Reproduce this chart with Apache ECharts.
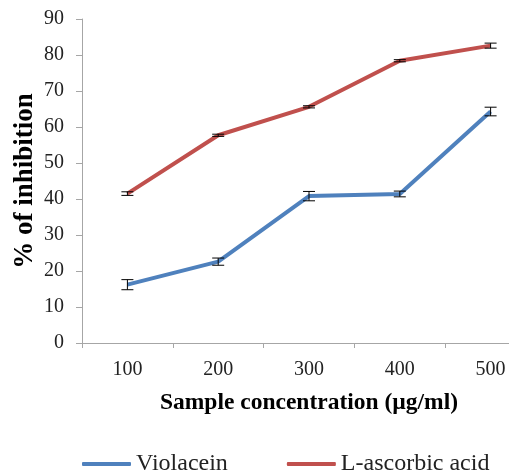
<!DOCTYPE html>
<html><head><meta charset="utf-8">
<script src="https://cdn.jsdelivr.net/npm/echarts@6/dist/echarts.min.js"></script>
<style>html,body{margin:0;padding:0;background:#fff}#c{width:509px;height:474px}</style>
</head><body><div id="c"></div>
<script>
const categories = ['100', '200', '300', '400', '500'];
const violacein = [16.2, 22.6, 40.8, 41.4, 64.3];
const violaceinErr = [1.4, 1.0, 1.3, 0.8, 1.2];
const ascorbic = [41.5, 57.7, 65.6, 78.4, 82.6];
const ascorbicErr = [0.5, 0.3, 0.3, 0.3, 0.7];
const yTicks = [0, 10, 20, 30, 40, 50, 60, 70, 80, 90];

const FONT = 'Liberation Serif';
const chart = echarts.init(document.getElementById('c'));

function errSeries(vals, errs) {
  return {
    type: 'custom',
    silent: true,
    z: 5,
    data: vals.map((v, i) => [i, v - errs[i], v + errs[i]]),
    renderItem: function (params, api) {
      const lo = api.coord([api.value(0), api.value(1)]);
      const hi = api.coord([api.value(0), api.value(2)]);
      const w = 6;
      const st = { stroke: '#000', lineWidth: 1 };
      return {
        type: 'group',
        children: [
          { type: 'line', shape: { x1: lo[0], y1: lo[1], x2: hi[0], y2: hi[1] }, style: st },
          { type: 'line', shape: { x1: lo[0] - w, y1: lo[1], x2: lo[0] + w, y2: lo[1] }, style: st },
          { type: 'line', shape: { x1: hi[0] - w, y1: hi[1], x2: hi[0] + w, y2: hi[1] }, style: st }
        ]
      };
    }
  };
}

chart.setOption({
  animation: false,
  textStyle: { fontFamily: FONT },
  grid: { left: 82, top: 19, bottom: 131, right: -27, containLabel: false, outerBoundsMode: 'none' },
  legend: {
    top: 452,
    left: 82,
    padding: 0,
    itemWidth: 49,
    itemHeight: 4,
    itemGap: 59,
    icon: 'roundRect',
    textStyle: { fontFamily: FONT, fontSize: 24, color: '#222', fontWeight: 'normal' },
    data: ['Violacein', 'L-ascorbic acid']
  },
  xAxis: {
    type: 'category',
    data: categories,
    boundaryGap: true,
    axisLine: { lineStyle: { color: '#a6a6a6', width: 1 } },
    axisTick: { show: true, length: 5, lineStyle: { color: '#a6a6a6' } },
    axisLabel: { fontFamily: FONT, fontSize: 20, color: '#222', margin: 17 },
    name: 'Sample concentration (µg/ml)',
    nameLocation: 'middle',
    nameGap: 48,
    nameMoveOverlap: false,
    nameTextStyle: { fontFamily: FONT, fontSize: 23.5, fontWeight: 'bold', color: '#000' },
    splitLine: { show: false }
  },
  yAxis: {
    type: 'value',
    min: yTicks[0],
    max: yTicks[yTicks.length - 1],
    interval: 10,
    axisLine: { show: true, lineStyle: { color: '#a6a6a6', width: 1 } },
    axisTick: { show: true, length: 6, lineStyle: { color: '#a6a6a6' } },
    axisLabel: { fontFamily: FONT, fontSize: 20, color: '#222', margin: 18 },
    splitLine: { show: false },
    name: '% of inhibition',
    nameLocation: 'middle',
    nameGap: 43,
    nameMoveOverlap: false,
    nameTextStyle: { fontFamily: FONT, fontSize: 27, fontWeight: 'bold', color: '#000' }
  },
  series: [
    {
      name: 'Violacein', type: 'line', data: violacein,
      showSymbol: false, symbol: 'none',
      lineStyle: { color: '#4F81BD', width: 4 }, itemStyle: { color: '#4F81BD' }, z: 3
    },
    {
      name: 'L-ascorbic acid', type: 'line', data: ascorbic,
      showSymbol: false, symbol: 'none',
      lineStyle: { color: '#C0504D', width: 4 }, itemStyle: { color: '#C0504D' }, z: 3
    },
    errSeries(violacein, violaceinErr),
    errSeries(ascorbic, ascorbicErr)
  ]
});
</script></body></html>
